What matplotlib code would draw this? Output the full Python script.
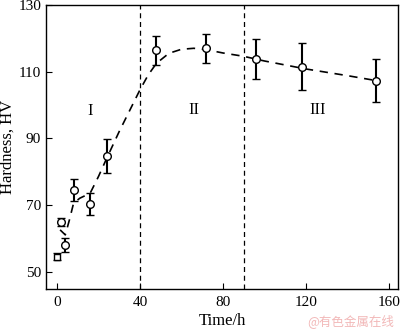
import numpy as np
import matplotlib
matplotlib.use("Agg")
import matplotlib.pyplot as plt

# Datos medidos (tiempo en h, dureza HV, error)
time_h = [0, 2, 4, 8, 16, 24, 48, 72, 96, 118, 154]
hardness = [54.5, 65, 58, 74.5, 70.3, 84.7, 116.4, 117, 113.8, 111.5, 107.3]
err = [1.0, 1.2, 2.0, 3.3, 3.3, 5.0, 4.4, 4.3, 6.0, 7.1, 6.5]

# Curva de tendencia
fit_x = [1.5, 4, 6, 8, 11, 16, 20, 24, 30, 36, 40, 44, 48, 54, 60, 66, 72,
         80, 90, 100, 120, 140, 154]
fit_y = [62.5, 61, 65.5, 70.5, 72, 73.5, 78.5, 84, 92, 99.5, 104.5, 109,
         112.5, 115.5, 116.7, 117, 116.6, 115.6, 114.6, 113.2, 110.8, 108.8, 107.3]

regions = ["I", "II", "III"]
region_x = [16, 66, 125.5]
region_y = [98.3, 98.5, 98.5]
boundaries = [40, 90]

plt.rcParams['font.family'] = ['Liberation Serif', 'DejaVu Serif']

fig = plt.figure(figsize=(4.0, 3.32), dpi=100)
ax = fig.add_axes([0.115, 0.13, 0.88, 0.855])

ax.plot(fit_x, fit_y, color='black', lw=1.2, ls=(0, (5, 4)), zorder=2)
for b in boundaries:
    ax.axvline(b, color='black', lw=0.9, ls=(0, (4, 3)), zorder=1)

# Primer punto con marcador cuadrado
ax.errorbar(time_h[:1], hardness[:1], yerr=err[:1], fmt='s', ms=4.5,
            mfc='white', mec='black', mew=1.0, ecolor='black', elinewidth=1.5,
            capsize=3, capthick=1.5, zorder=3)
ax.errorbar(time_h[1:], hardness[1:], yerr=err[1:], fmt='o', ms=5.5,
            mfc='white', mec='black', mew=1.0, ecolor='black', elinewidth=1.5,
            capsize=3, capthick=1.5, zorder=3)

for lab, x, y in zip(regions, region_x, region_y):
    ax.text(x, y, lab, ha='center', va='center', fontsize=12)

ax.set_xlim(-5.3, 164.5)
ax.set_ylim(44.8, 130)
ax.set_xticks([0, 40, 80, 120, 160])
ax.set_yticks([50, 70, 90, 110, 130])
ax.tick_params(direction='in', labelsize=11, length=4, width=0.8)
ax.tick_params(axis='x', pad=5)
for s in ax.spines.values():
    s.set_linewidth(1.0)

ax.set_xlabel('Time/h', fontsize=12, labelpad=3)
ax.set_ylabel('Hardness, HV', fontsize=12, labelpad=2)

fig.text(0.985, 0.012, '@有色金属在线', ha='right', va='bottom', fontsize=9,
         color='#f2b8b8', family=['Noto Sans CJK SC', 'DejaVu Sans'])

fig.savefig('out.png', dpi=100)
